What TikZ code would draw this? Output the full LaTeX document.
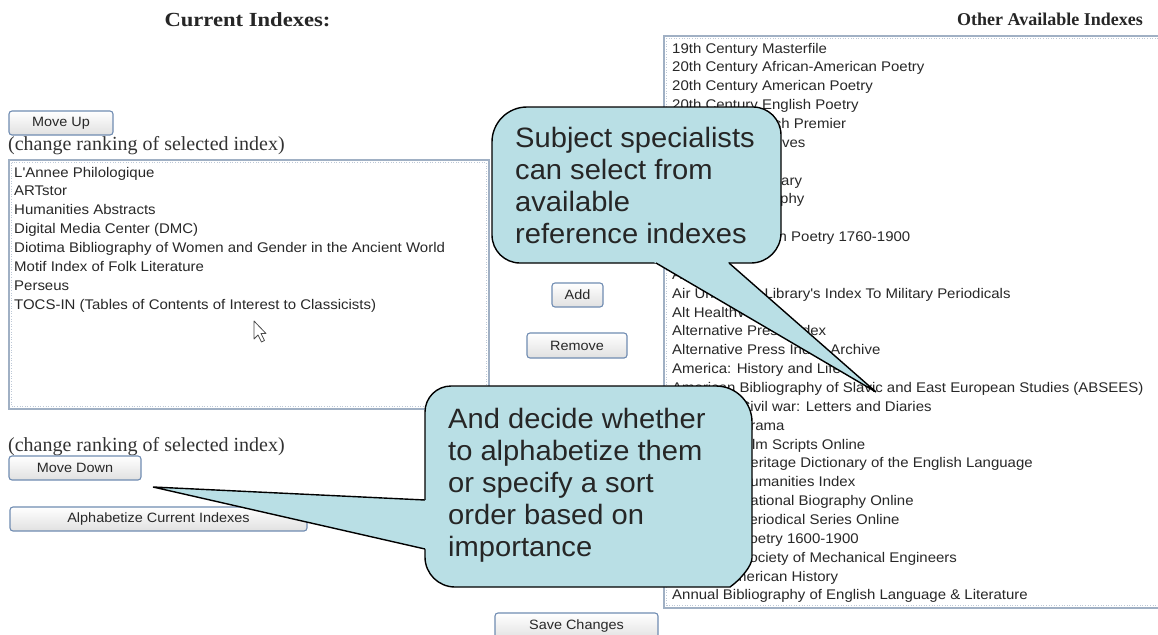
\documentclass[tikz,border=0pt]{standalone}
\usepackage{fontspec}
\setmainfont{Liberation Serif}
\newfontfamily\listfont[FakeStretch=1.07]{Liberation Sans}
\newfontfamily\calfont[FakeStretch=1.04]{Liberation Sans}
\newfontfamily\headfont[FakeStretch=1.13]{Liberation Serif}
\definecolor{calfill}{RGB}{185,223,229}
\definecolor{boxline}{RGB}{160,176,196}
\definecolor{btnline}{RGB}{112,140,178}
\definecolor{txt}{RGB}{40,40,40}
\tikzset{
 item/.style={anchor=base west, inner sep=0pt, font=\listfont\fontsize{14}{16}\selectfont, text=txt},
 btn/.style={draw=btnline, line width=1.1pt, rounded corners=3pt, top color=white, bottom color=black!12, inner sep=0pt, font=\listfont\fontsize{13.5}{16}\selectfont, text=txt},
 listbox/.style={draw=boxline, line width=1.2pt, fill=white},
 innerdots/.style={draw=boxline!70, dotted, line width=0.6pt},
 callout/.style={fill=calfill, draw=black, line width=1.4pt, line join=round},
 tailfill/.style={fill=calfill},
 tailline/.style={draw=black, line width=1.4pt},
 caltext/.style={anchor=north west, inner sep=0pt, align=left, font=\calfont\fontsize{28}{32}\selectfont, text=black!85},
 heading/.style={inner sep=0pt, font=\headfont\bfseries\fontsize{20}{22}\selectfont, text=black!85},
 heading2/.style={inner sep=0pt, font=\bfseries\fontsize{18}{20}\selectfont, text=black!85},
 note/.style={anchor=base west, inner sep=0pt, font=\fontsize{20}{22}\selectfont, text=black!80},
 cursor/.style={fill=white, draw=black!70, line width=0.8pt, line join=round},
}
\begin{document}
\begin{tikzpicture}[x=1pt,y=-1pt]
\useasboundingbox (0,0) rectangle (1158,634);
\clip (0,0) rectangle (1158,634);
\fill[white] (0,0) rectangle (1158,634);

% headings
\node[heading, anchor=base] (hcur) at (247.5,26.5) {Current Indexes:};
\node[heading2, anchor=base east] (hoth) at (1143,26) {Other Available Indexes};

% left column
\node[btn, minimum width=104pt, minimum height=24pt] (mu) at (61,123) {Move Up};
\node[note] (n1) at (8,150) {(change ranking of selected index)};
\draw[listbox] (9,160) rectangle (489,409);
\draw[innerdots] (11.5,162.5) rectangle (486.5,406.5);
\foreach \t [count=\i from 0] in {{L'Annee Philologique},{ARTstor},{Humanities Abstracts},{Digital Media Center (DMC)},{Diotima Bibliography of Women and Gender in the Ancient World},{Motif Index of Folk Literature},{Perseus},{TOCS-IN (Tables of Contents of Interest to Classicists)}}
  \node[item] (l\i) at (14,{177+18.86*\i}) {\t};
\draw[cursor] (254,321) -- (254,339) -- (258,335) -- (261.5,342) -- (264.5,340.5) -- (261,333.5) -- (266,333.5) -- cycle;
\node[note] (n2) at (8,451) {(change ranking of selected index)};
\node[btn, minimum width=132pt, minimum height=24pt] (md) at (75,468) {Move Down};
\node[btn, minimum width=297pt, minimum height=24pt] (alpha) at (158.5,519) {Alphabetize Current Indexes};

% middle buttons
\node[btn, minimum width=51pt, minimum height=24pt] (add) at (577.5,295) {Add};
\node[btn, minimum width=100pt, minimum height=25pt] (rem) at (577,345.5) {Remove};
\node[btn, minimum width=163pt, minimum height=27pt] (save) at (576.5,626.5) {Save Changes};

% right list
\draw[listbox] (664,36) rectangle (1175,608);
\draw[innerdots] (666.5,38.5) rectangle (1172,605.5);
\foreach \k/\t in {0/{19th Century Masterfile},1/{20th Century African-American Poetry},2/{20th Century American Poetry},3/{20th Century English Poetry},13/{Air University Library's Index To Military Periodicals},14/{Alt HealthWatch},15/{Alternative Press Index},16/{Alternative Press Index Archive},17/{America: History and Life},18/{American Bibliography of Slavic and East European Studies (ABSEES)},29/{Annual Bibliography of English Language \& Literature}}
  \node[item] (r\k) at (672,{53+18.86*\k}) {\t};
% rows partly hidden by the callouts: only their visible parts
\node[item] (r4) at (768.6,128.44) {rch Premier};
\node[item] (r5) at (770.2,147.3) {hives};
\node[item] (r7) at (776,185.02) {rary};
\node[item] (r8) at (780,203.88) {phy};
\node[item] (r10) at (778.5,241.6) {n Poetry 1760-1900};
\node[item] (r12) at (672,279.32) {A};
\foreach \k/\t in {19/{Civil war: Letters and Diaries},20/{Drama},21/{Film Scripts Online},22/{Heritage Dictionary of the English Language},23/{Humanities Index},24/{National Biography Online},25/{Periodical Series Online},26/{Poetry 1600-1900},27/{Society of Mechanical Engineers}}
  \node[item] (r\k) at (739.4,{53+18.86*\k}) {\t};
\node[item] (r28) at (724,581.08) {American History};

% callout 1
\draw[callout] (527,107) -- (753,107) .. controls (768.46,107) and (781,119.54) .. (781,135) -- (781,233) .. controls (781,249.57) and (767.57,263) .. (751,263) -- (520,263) .. controls (504.54,263) and (492,250.54) .. (492,235) -- (492,142) .. controls (492,122.67) and (507.67,107) .. (527,107) -- cycle;
\fill[tailfill] (651.7,260.8) -- (876,392) -- (726.3,260.8) -- cycle;
\draw[tailline] (656,263) -- (876,392) -- (729,263);
\node[caltext] (c1) at (515,127) {Subject specialists\\can select from\\available\\reference indexes};

% callout 2
\draw[callout] (451,386) -- (716,386) .. controls (735.88,386) and (752,402.12) .. (752,422) -- (752,558) .. controls (752,566) and (740,580) .. (730,587) -- (455,587) .. controls (438.43,587) and (425,573.57) .. (425,557) -- (425,412) .. controls (425,397.64) and (436.64,386) .. (451,386) -- cycle;
\fill[tailfill] (427.5,500.12) -- (153,487) -- (427.5,549.57) -- cycle;
\draw[tailline] (425,500) -- (153,487) -- (425,549);
\node[caltext] (c2) at (448,408) {And decide whether\\to alphabetize them\\or specify a sort\\order based on\\importance};
\end{tikzpicture}
\end{document}
